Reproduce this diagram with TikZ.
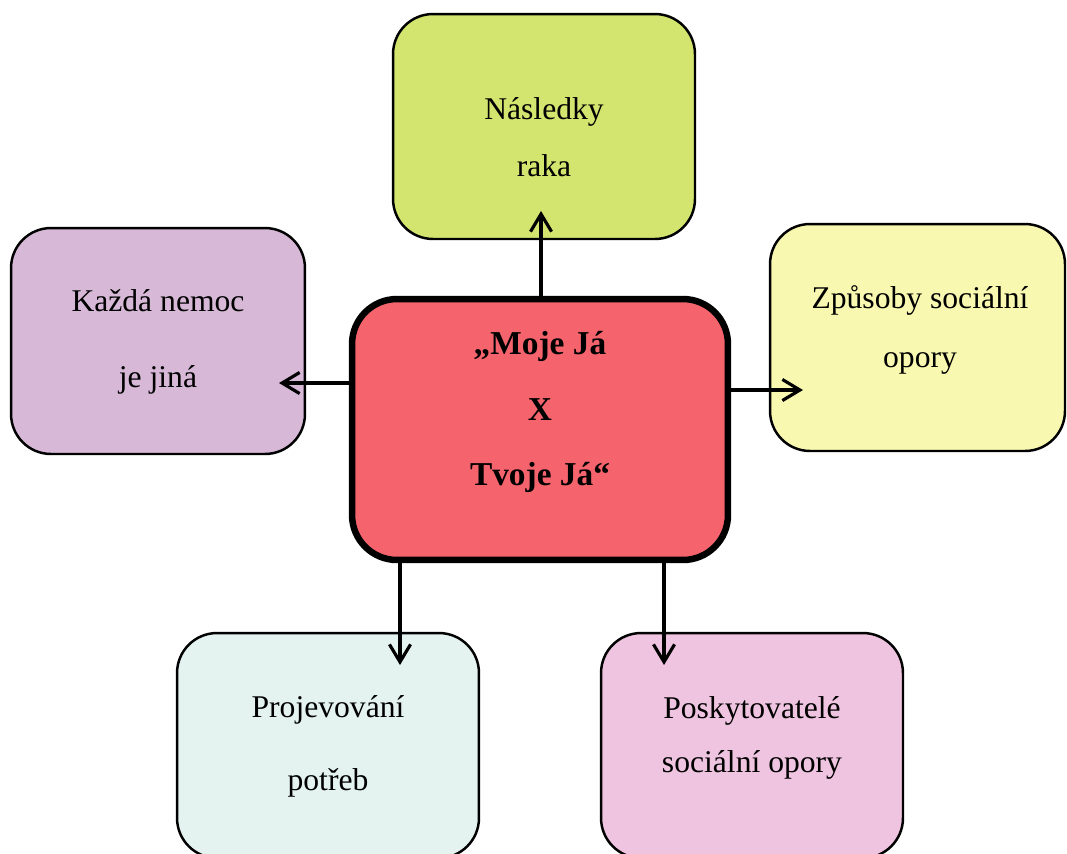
\documentclass[tikz,border=0pt]{standalone}
\usepackage{fontspec}
\setmainfont{Liberation Serif}
\usetikzlibrary{arrows.meta}

\definecolor{cRaka}{HTML}{D3E56E}
\definecolor{cNemoc}{HTML}{D7B9D7}
\definecolor{cZpusoby}{HTML}{F8F8B0}
\definecolor{cJa}{HTML}{F5646D}
\definecolor{cProjev}{HTML}{E4F3F0}
\definecolor{cPoskyt}{HTML}{EFC4E0}

\tikzset{
  box/.style={draw, line width=1.4pt, rounded corners=0.8cm, minimum width=6.04cm, minimum height=4.5cm},
  txt/.style={align=center, anchor=base, font=\fontsize{18}{32}\selectfont},
  arr/.style={-{Straight Barb[length=10pt, width=12pt]}, line width=1.8pt}
}

\begin{document}
\begin{tikzpicture}[x=0.02cm, y=-0.02cm]
        \useasboundingbox (0,0) rectangle (1067,853);
        \clip (0,0) rectangle (1067,853);

        %nodes
        \node[box, fill=cRaka] (raka) at (544,126.5) {};
        \node[box, fill=cNemoc, minimum width=5.88cm, minimum height=4.52cm] (nemoc) at (158,341) {};
        \node[box, fill=cZpusoby, minimum width=5.9cm, minimum height=4.54cm] (zpusoby) at (917.5,337.5) {};
        \node[box, fill=cJa, line width=3.7pt, rounded corners=0.9cm, minimum width=7.52cm, minimum height=5.22cm] (ja) at (540,429.5) {};
        \node[box, fill=cProjev] (projev) at (328,745.5) {};
        \node[box, fill=cPoskyt] (poskyt) at (752,745.5) {};

        %texts (anchored at the last baseline)
        \node[txt] (rakaT) at (544,176) {Následky\\raka};
        \node[txt] (nemocT) at (158,387) {Každá nemoc\\[11pt]je jiná};
        \node[txt] (zpusobyT) at (920,367) {Způsoby sociální\\[1.5pt]opory};
        \node[txt, font=\fontsize{19}{37}\selectfont\bfseries] (jaT) at (540,485) {„Moje Já\\X\\Tvoje Já“};
        \node[txt] (projevT) at (328,790) {Projevování\\[9.5pt]potřeb};
        \node[txt] (poskytT) at (752,772) {Poskytovatelé\\[-1.5pt]sociální opory};

        %edges
        \coordinate (kRaka) at (541,211);
        \coordinate (kNemoc) at (279,383);
        \coordinate (kZpusoby) at (803,390);
        \coordinate (kProjev) at (400,665);
        \coordinate (kPoskyt) at (664,665);
        \draw[arr] (ja.north -| kRaka) -- (kRaka);
        \draw[arr] (ja.west |- kNemoc) -- (kNemoc);
        \draw[arr] (ja.east |- kZpusoby) -- (kZpusoby);
        \draw[arr] (ja.south -| kProjev) -- (kProjev);
        \draw[arr] (ja.south -| kPoskyt) -- (kPoskyt);
    \end{tikzpicture}
\end{document}
